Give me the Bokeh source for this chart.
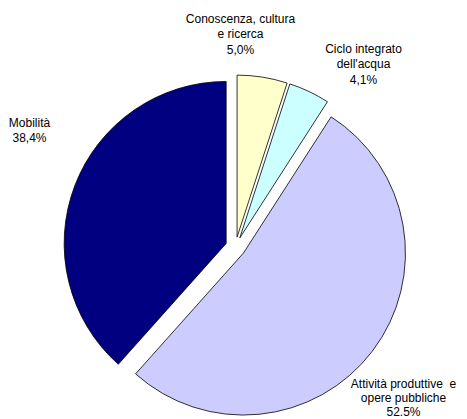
import math
from bokeh.plotting import figure
from bokeh.models import Range1d, ColumnDataSource
from bokeh.core.properties import value
from bokeh.embed import file_html
from bokeh.resources import INLINE

# ---- data ----
categories = ["Conoscenza, cultura\ne ricerca", "Ciclo integrato\ndell'acqua",
              "Attività produttive \u00a0e\nopere pubbliche", "Mobilità"]
shares = [5.0, 4.1, 52.5, 38.4]
pct_labels = ["5,0%", "4,1%", "52.5%", "38,4%"]
colors = ["#FFFFCC", "#CCFFFF", "#CCCCFF", "#000080"]

W, H = 467, 419
# screen-like coordinates: data x = page x, data y = H - page y
cx, cy = 235, H - 246.5
radius = 162
explode = 10
label_pos = [(240, 18), (363, 48), (403, 383), (29, 122)]  # page coords of first line
line_gap = [15.6, 15.6, 14.2, 15.6]

p = figure(width=W, height=H, output_backend="svg", toolbar_location=None,
           x_range=Range1d(0, W), y_range=Range1d(0, H),
           x_axis_type=None, y_axis_type=None, min_border=0,
           outline_line_color=None, background_fill_color="white")
p.grid.visible = False

total = sum(shares)
cum = 0.0
xs, ys, sa, ea = [], [], [], []
for v in shares:
    f0 = cum / total
    f1 = (cum + v) / total
    mid = math.pi / 2 - 2 * math.pi * (f0 + f1) / 2
    xs.append(cx + explode * math.cos(mid))
    ys.append(cy + explode * math.sin(mid))
    sa.append(math.pi / 2 - 2 * math.pi * f0)
    ea.append(math.pi / 2 - 2 * math.pi * f1)
    cum += v

src = ColumnDataSource(dict(x=xs, y=ys, sa=sa, ea=ea, color=colors))
p.wedge(x="x", y="y", radius=radius, start_angle="sa", end_angle="ea",
        direction="clock", fill_color="color", line_color="black",
        line_width=0.8, source=src)

tx, ty, tt = [], [], []
for cat, pct, (lx, ly), g in zip(categories, pct_labels, label_pos, line_gap):
    lines = cat.split("\n") + [pct]
    for i, ln in enumerate(lines):
        tx.append(lx)
        ty.append(H - (ly + i * g))
        tt.append(ln)

p.text(x=tx, y=ty, text=tt, text_align="center", text_baseline="middle",
       text_font=value("Liberation Sans"), text_font_size="12px",
       text_color="black")

open("out.html", "w").write(file_html(p, INLINE))
